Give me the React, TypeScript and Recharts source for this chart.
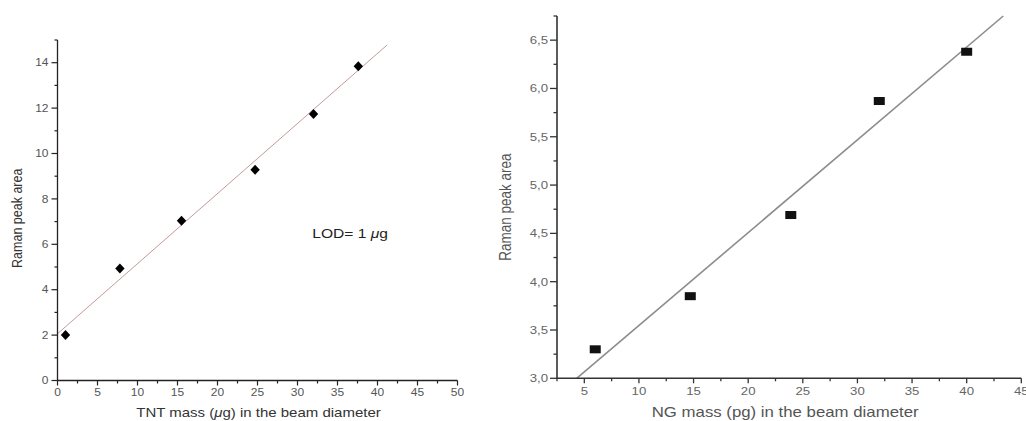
import React from "react";
import { ScatterChart, Scatter, XAxis, YAxis, ReferenceLine, ReferenceDot } from "recharts";

// left panel: TNT
const tntMass = [1, 7.8, 15.5, 24.7, 32, 37.6];
const tntArea = [2.0, 4.93, 7.04, 9.28, 11.74, 13.84];
const tntFitX = [0, 41.2];
const tntFitY = [2.06, 14.78];
const tntXTicks = [0, 2.5, 5, 7.5, 10, 12.5, 15, 17.5, 20, 22.5, 25, 27.5, 30, 32.5, 35, 37.5, 40, 42.5, 45, 47.5, 50];
const tntYTicks = [0, 1, 2, 3, 4, 5, 6, 7, 8, 9, 10, 11, 12, 13, 14, 15];
const tntLod = { x: 31.85, y: 6.5 };

// right panel: NG
const ngMass = [6, 14.7, 23.9, 32, 40];
const ngArea = [3.3, 3.85, 4.69, 5.87, 6.38];
const ngFitX = [4.3, 43.35];
const ngFitY = [3.0, 6.75];
const ngXTicks = [2.5, 5, 7.5, 10, 12.5, 15, 17.5, 20, 22.5, 25, 27.5, 30, 32.5, 35, 37.5, 40, 42.5, 45];
const ngYTicks = [3, 3.25, 3.5, 3.75, 4, 4.25, 4.5, 4.75, 5, 5.25, 5.5, 5.75, 6, 6.25, 6.5, 6.75];

const tntData = tntMass.map((x, i) => ({ x, y: tntArea[i] }));
const ngData = ngMass.map((x, i) => ({ x, y: ngArea[i] }));

const FONT = '"Liberation Sans", Arial, sans-serif';
const SX = 1.2; // the scanned figure is a bit stretched sideways

function withMu(text: string) {
  return text.split(/(μ)/).map((part, i) =>
    part === "μ" ? <tspan key={i} fontStyle="italic">μ</tspan> : <tspan key={i}>{part}</tspan>
  );
}

function AxisTick(props: any) {
  const { x, y, payload, side, major, majorLen, minorLen, gap, labelSize, labelColor, lineColor, lineWidth, fmt } = props;
  const v = payload.value;
  const isMajor = Math.abs(v / major - Math.round(v / major)) < 1e-6;
  const len = isMajor ? majorLen : minorLen;
  if (side === "left") {
    return (
      <g>
        <line x1={x - len} y1={y} x2={x} y2={y} stroke={lineColor} strokeWidth={lineWidth} />
        {isMajor && (
          <g transform={`translate(${x - majorLen - gap},${y}) scale(${SX},1)`}>
            <text textAnchor="end" dy="0.36em" fontSize={labelSize} fill={labelColor}>{fmt(v)}</text>
          </g>
        )}
      </g>
    );
  }
  return (
    <g>
      <line x1={x} y1={y} x2={x} y2={y + len} stroke={lineColor} strokeWidth={lineWidth} />
      {isMajor && (
        <g transform={`translate(${x},${y + majorLen + gap}) scale(${SX},1)`}>
          <text textAnchor="middle" dy="0.72em" fontSize={labelSize} fill={labelColor}>{fmt(v)}</text>
        </g>
      )}
    </g>
  );
}

function AxisTitle(props: any) {
  const { viewBox, text, vertical, dx = 0, dy = 0, size, color } = props;
  if (vertical) {
    const cx = viewBox.x + dx;
    const cy = viewBox.y + viewBox.height / 2 + dy;
    return (
      <g transform={`translate(${cx},${cy}) scale(${SX},1) rotate(-90)`}>
        <text textAnchor="middle" dy="0.35em" fontSize={size} fill={color}>{withMu(text)}</text>
      </g>
    );
  }
  const cx = viewBox.x + viewBox.width / 2 + dx;
  const cy = viewBox.y + dy;
  return (
    <g transform={`translate(${cx},${cy}) scale(${SX},1)`}>
      <text textAnchor="middle" dy="0.35em" fontSize={size} fill={color}>{withMu(text)}</text>
    </g>
  );
}

const Diamond = (p: any) => (
  <polygon
    points={`${p.cx},${p.cy - 5} ${p.cx + 4.7},${p.cy} ${p.cx},${p.cy + 5} ${p.cx - 4.7},${p.cy}`}
    fill="#000"
  />
);

const Square = (p: any) => <rect x={p.cx - 5.5} y={p.cy - 4} width={11} height={8} fill="#111" />;

function TntChart() {
  const tick = { major: 2, majorLen: 6, minorLen: 3, gap: 3, labelSize: 10, labelColor: "#555", lineColor: "#222", lineWidth: 1.2 };
  return (
    <ScatterChart width={475} height={421} margin={{ top: 40, right: 17.5, bottom: 0, left: 7.5 }} style={{ fontFamily: FONT }}>
      <XAxis
        type="number"
        dataKey="x"
        domain={[0, 50]}
        ticks={tntXTicks}
        interval={0}
        height={40.5}
        tickSize={0}
        tickMargin={0}
        tickLine={false}
        axisLine={{ stroke: "#222", strokeWidth: 1.3 }}
        tick={<AxisTick side="bottom" {...tick} major={5} majorLen={5} gap={3} fmt={(v: number) => String(v)} />}
        label={<AxisTitle text="TNT mass (μg) in the beam diameter" dx={1} dy={32.5} size={12.5} color="#333" />}
      />
      <YAxis
        type="number"
        dataKey="y"
        domain={[0, 15]}
        ticks={tntYTicks}
        interval={0}
        width={50}
        tickSize={0}
        tickMargin={0}
        tickLine={false}
        axisLine={{ stroke: "#222", strokeWidth: 1.3 }}
        tick={<AxisTick side="left" {...tick} fmt={(v: number) => String(v)} />}
        label={<AxisTitle text="Raman peak area" vertical dx={9.5} dy={8} size={12.5} color="#333" />}
      />
      <ReferenceLine
        segment={[{ x: tntFitX[0], y: tntFitY[0] }, { x: tntFitX[1], y: tntFitY[1] }]}
        stroke="#c49a9a"
        strokeWidth={1}
      />
      <Scatter data={tntData} shape={Diamond} isAnimationActive={false} />
      <ReferenceDot
        x={tntLod.x}
        y={tntLod.y}
        r={0}
        shape={(p: any) => (
          <g transform={`translate(${p.cx},${p.cy}) scale(${SX},1)`}>
            <text dy="0.35em" fontSize={13} fill="#222">{withMu("LOD= 1 μg")}</text>
          </g>
        )}
      />
    </ScatterChart>
  );
}

function NgChart() {
  const tick = { major: 0.5, majorLen: 7, minorLen: 3.5, gap: 2, labelSize: 11, labelColor: "#666", lineColor: "#333", lineWidth: 1.3 };
  return (
    <ScatterChart width={560} height={421} margin={{ top: 16, right: 18.7, bottom: 0, left: 17 }} style={{ fontFamily: FONT }}>
      <XAxis
        type="number"
        dataKey="x"
        domain={[2.5, 45]}
        ticks={ngXTicks}
        interval={0}
        height={42.7}
        tickSize={0}
        tickMargin={0}
        tickLine={false}
        axisLine={{ stroke: "#333", strokeWidth: 1.6 }}
        tick={<AxisTick side="bottom" {...tick} major={5} majorLen={5} minorLen={3} gap={4} fmt={(v: number) => String(v)} />}
        label={<AxisTitle text="NG mass (pg) in the beam diameter" dx={-4} dy={33.5} size={14} color="#555" />}
      />
      <YAxis
        type="number"
        dataKey="y"
        domain={[3, 6.75]}
        ticks={ngYTicks}
        interval={0}
        width={60}
        tickSize={0}
        tickMargin={0}
        tickLine={false}
        axisLine={{ stroke: "#333", strokeWidth: 1.6 }}
        tick={<AxisTick side="left" {...tick} fmt={(v: number) => v.toFixed(1).replace(".", ",")} />}
        label={<AxisTitle text="Raman peak area" vertical dx={8} dy={10} size={13.5} color="#555" />}
      />
      <ReferenceLine
        segment={[{ x: ngFitX[0], y: ngFitY[0] }, { x: ngFitX[1], y: ngFitY[1] }]}
        stroke="#8c8c8c"
        strokeWidth={1.6}
      />
      <Scatter data={ngData} shape={Square} isAnimationActive={false} />
    </ScatterChart>
  );
}

export default function App() {
  return (
    <div style={{ position: "fixed", left: 0, top: 0, width: 1026, height: 421, overflow: "hidden", background: "#fff" }}>
      <div style={{ position: "absolute", left: 0, top: 0 }}>
        <TntChart />
      </div>
      <div style={{ position: "absolute", left: 480, top: 0 }}>
        <NgChart />
      </div>
    </div>
  );
}
